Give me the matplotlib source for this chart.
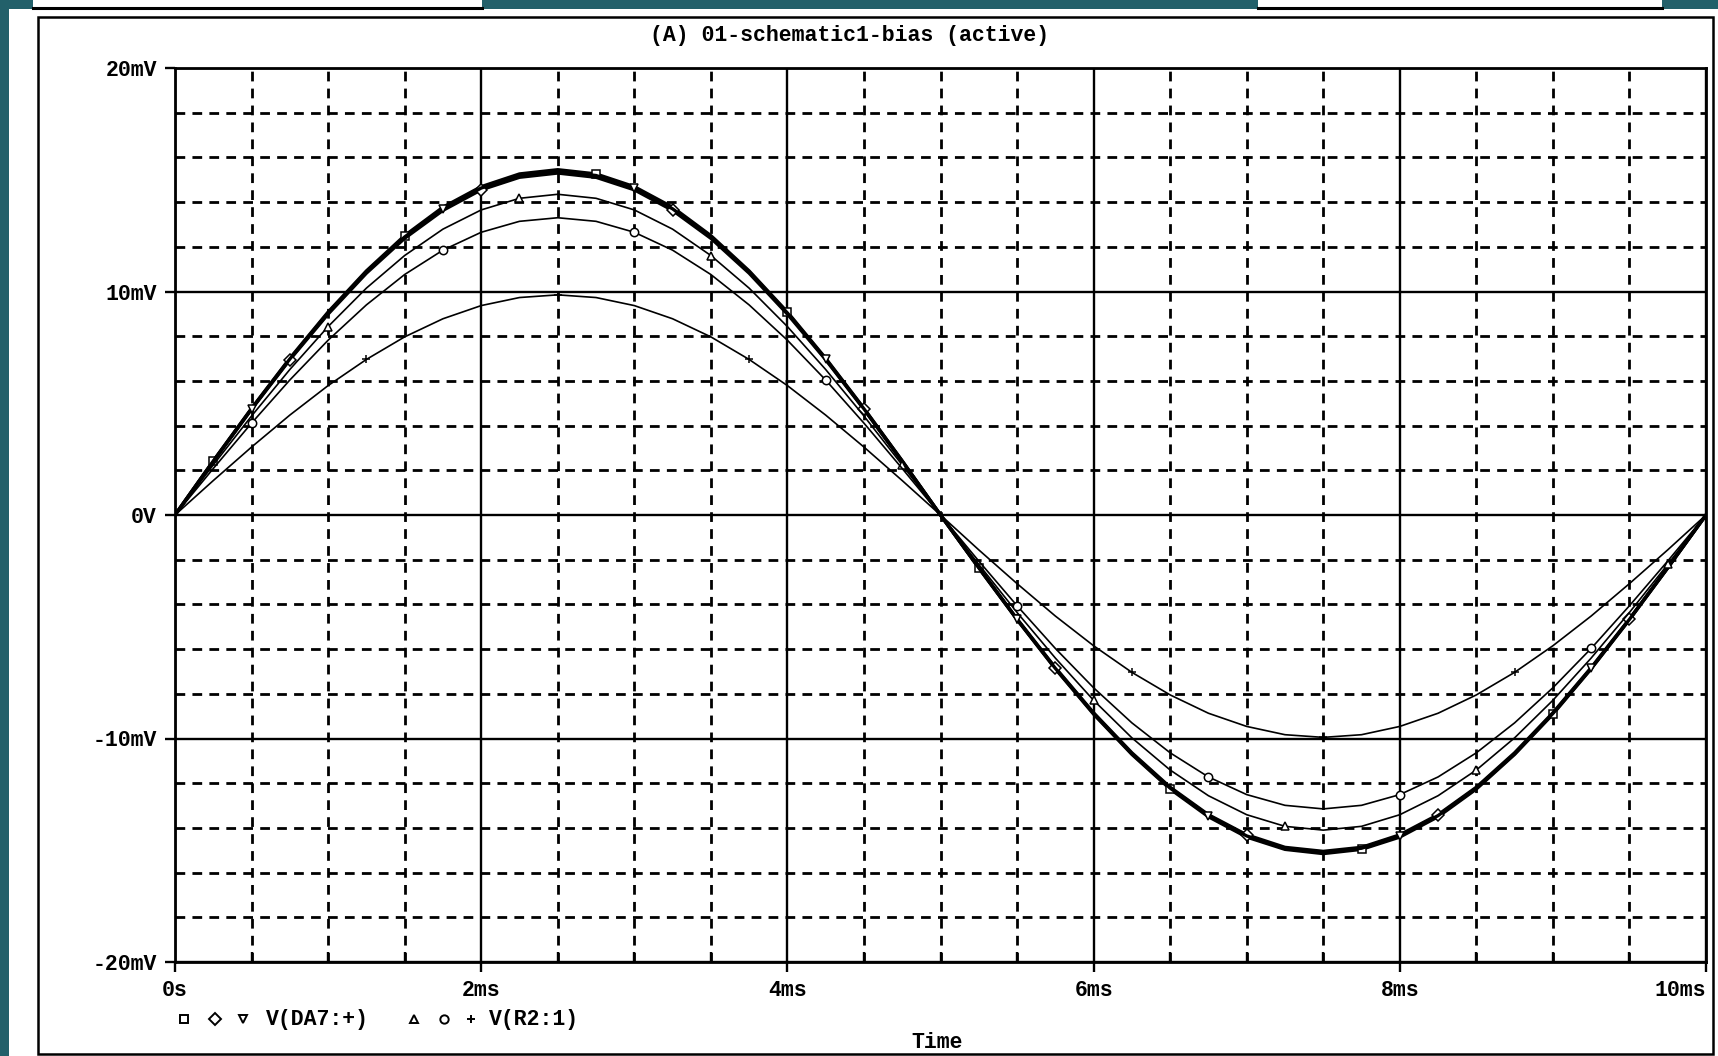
import numpy as np
import matplotlib
matplotlib.use("Agg")
import matplotlib.pyplot as plt
from matplotlib.patches import Rectangle
from matplotlib.lines import Line2D

# ---------------- data ----------------
time_ms = np.arange(0, 10.0001, 0.25)

trace_1 = [0, 2.42, 4.77, 7.01, 9.08, 10.92, 12.50, 13.77, 14.69, 15.26, 15.45,
           15.26, 14.69, 13.77, 12.50, 10.92, 9.08, 7.01, 4.77, 2.42, 0,
           -2.37, -4.68, -6.88, -8.91, -10.71, -12.26, -13.50, -14.41, -14.96, -15.15,
           -14.96, -14.41, -13.50, -12.26, -10.71, -8.91, -6.88, -4.68, -2.37, 0]
trace_2 = [0, 2.39, 4.73, 6.95, 8.99, 10.82, 12.38, 13.63, 14.55, 15.11, 15.30,
           15.11, 14.55, 13.63, 12.38, 10.82, 8.99, 6.95, 4.73, 2.39, 0,
           -2.35, -4.65, -6.83, -8.85, -10.64, -12.18, -13.41, -14.31, -14.87, -15.05,
           -14.87, -14.31, -13.41, -12.18, -10.64, -8.85, -6.83, -4.65, -2.35, 0]
trace_3 = [0, 2.41, 4.75, 6.98, 9.04, 10.88, 12.44, 13.70, 14.63, 15.19, 15.38,
           15.19, 14.63, 13.70, 12.44, 10.88, 9.04, 6.98, 4.75, 2.41, 0,
           -2.36, -4.67, -6.86, -8.88, -10.68, -12.22, -13.45, -14.36, -14.91, -15.10,
           -14.91, -14.36, -13.45, -12.22, -10.68, -8.88, -6.86, -4.67, -2.36, 0]
trace_4 = [0, 2.24, 4.43, 6.51, 8.43, 10.15, 11.61, 12.79, 13.65, 14.17, 14.35,
           14.17, 13.65, 12.79, 11.61, 10.15, 8.43, 6.51, 4.43, 2.24, 0,
           -2.21, -4.36, -6.40, -8.29, -9.97, -11.41, -12.56, -13.41, -13.93, -14.10,
           -13.93, -13.41, -12.56, -11.41, -9.97, -8.29, -6.40, -4.36, -2.21, 0]
trace_5 = [0, 2.08, 4.11, 6.04, 7.82, 9.40, 10.76, 11.85, 12.65, 13.14, 13.30,
           13.14, 12.65, 11.85, 10.76, 9.40, 7.82, 6.04, 4.11, 2.08, 0,
           -2.06, -4.06, -5.97, -7.73, -9.30, -10.64, -11.72, -12.51, -12.99, -13.15,
           -12.99, -12.51, -11.72, -10.64, -9.30, -7.73, -5.97, -4.06, -2.06, 0]
trace_6 = [0, 1.54, 3.04, 4.47, 5.79, 6.96, 7.97, 8.78, 9.37, 9.73, 9.85,
           9.73, 9.37, 8.78, 7.97, 6.96, 5.79, 4.47, 3.04, 1.54, 0,
           -1.56, -3.07, -4.52, -5.85, -7.04, -8.05, -8.87, -9.46, -9.83, -9.95,
           -9.83, -9.46, -8.87, -8.05, -7.04, -5.85, -4.52, -3.07, -1.56, 0]

x_ticks = [0, 2, 4, 6, 8, 10]
x_labels = ["0s", "2ms", "4ms", "6ms", "8ms", "10ms"]
y_ticks = [-20, -10, 0, 10, 20]
y_labels = ["-20mV", "-10mV", "0V", "10mV", "20mV"]
title = "(A) 01-schematic1-bias (active)"
legend_a = "V(DA7:+)"
legend_b = "V(R2:1)"

# ---------------- figure ----------------
W, H = 1718, 1056
fig = plt.figure(figsize=(W / 100, H / 100), dpi=100, facecolor="#22606a")
FONT = "Liberation Mono"


def fx(x):
    return x / W


def fy(y):
    return 1 - y / H


# white window
fig.add_artist(Rectangle((fx(9), 0), 1 - fx(9), fy(9), transform=fig.transFigure,
                         facecolor="white", edgecolor="none", zorder=0))
# top partial header boxes
for x0, x1 in [(33, 482), (1258, 1662)]:
    fig.add_artist(Rectangle((fx(x0), fy(10)), fx(x1) - fx(x0), fy(0) - fy(10),
                             transform=fig.transFigure, facecolor="white",
                             edgecolor="none", zorder=1))
    fig.add_artist(Line2D([fx(x0), fx(x1)], [fy(8), fy(8)], transform=fig.transFigure,
                          color="black", lw=2.2, zorder=2))
# outer frame
fig.add_artist(Rectangle((fx(38), fy(1054)), fx(1713) - fx(38), fy(17) - fy(1054),
                         transform=fig.transFigure, fill=False, edgecolor="black",
                         lw=1.8, zorder=1))

ax = fig.add_axes([fx(175), fy(962), fx(1706) - fx(175), fy(68) - fy(962)])
ax.set_facecolor("white")
ax.set_xlim(0, 10)
ax.set_ylim(-20, 20)

traces = [trace_1, trace_2, trace_3, trace_4, trace_5, trace_6]
markers = ["s", "D", "v", "^", "o", "+"]
widths = [2.4, 2.4, 2.4, 1.2, 1.2, 1.2]
offsets = [1, 3, 2, 4, 2, 0]
for tr, mk, lw, off in zip(traces, markers, widths, offsets):
    ax.plot(time_ms, tr, color="black", lw=lw, marker=mk, ms=6, mew=1.1,
            mfc="white", mec="black", markevery=(off, 5), zorder=3)

# grid
ax.set_xticks(x_ticks)
ax.set_xticklabels(x_labels, fontfamily=FONT, fontsize=15.5, fontweight="bold")
ax.set_yticks(y_ticks)
ax.set_yticklabels(y_labels, fontfamily=FONT, fontsize=15.5, fontweight="bold")
ax.set_xticks(np.arange(0, 10.01, 0.5), minor=True)
ax.set_yticks(np.arange(-20, 20.01, 2), minor=True)
ax.grid(which="major", color="black", lw=1.7, ls="-")
ax.grid(which="minor", color="black", lw=2.0, ls=(0, (3.5, 2.6)))
ax.set_axisbelow(True)

ax.tick_params(axis="both", which="major", direction="out", length=7, width=1.7,
               color="black", pad=6)
ax.tick_params(axis="x", which="minor", direction="in", length=7, width=1.7)
ax.tick_params(axis="y", which="minor", length=0)
for s in ax.spines.values():
    s.set_linewidth(2.0)
    s.set_color("black")

lbls = ax.get_xticklabels()
lbls[-1].set_horizontalalignment("right")

# title
fig.text(fx(850), fy(36), title, ha="center", va="center", fontfamily=FONT,
         fontsize=15.5, fontweight="bold")

# legend row
ly = fy(1019)
for xp, mk in [(184, "s"), (215, "D"), (243, "v"), (414, "^"), (444, "o"), (471, "+")]:
    fig.add_artist(Line2D([fx(xp)], [ly], transform=fig.transFigure, marker=mk,
                          ms=6, mew=1.4, mfc="white", mec="black", color="black"))
fig.text(fx(266), ly, legend_a, ha="left", va="center", fontfamily=FONT,
         fontsize=15.5, fontweight="bold")
fig.text(fx(489), ly, legend_b, ha="left", va="center", fontfamily=FONT,
         fontsize=15.5, fontweight="bold")

fig.text(fx(937), fy(1043), "Time", ha="center", va="center", fontfamily=FONT,
         fontsize=15.5, fontweight="bold")

fig.savefig("out.png", dpi=100, facecolor=fig.get_facecolor())
